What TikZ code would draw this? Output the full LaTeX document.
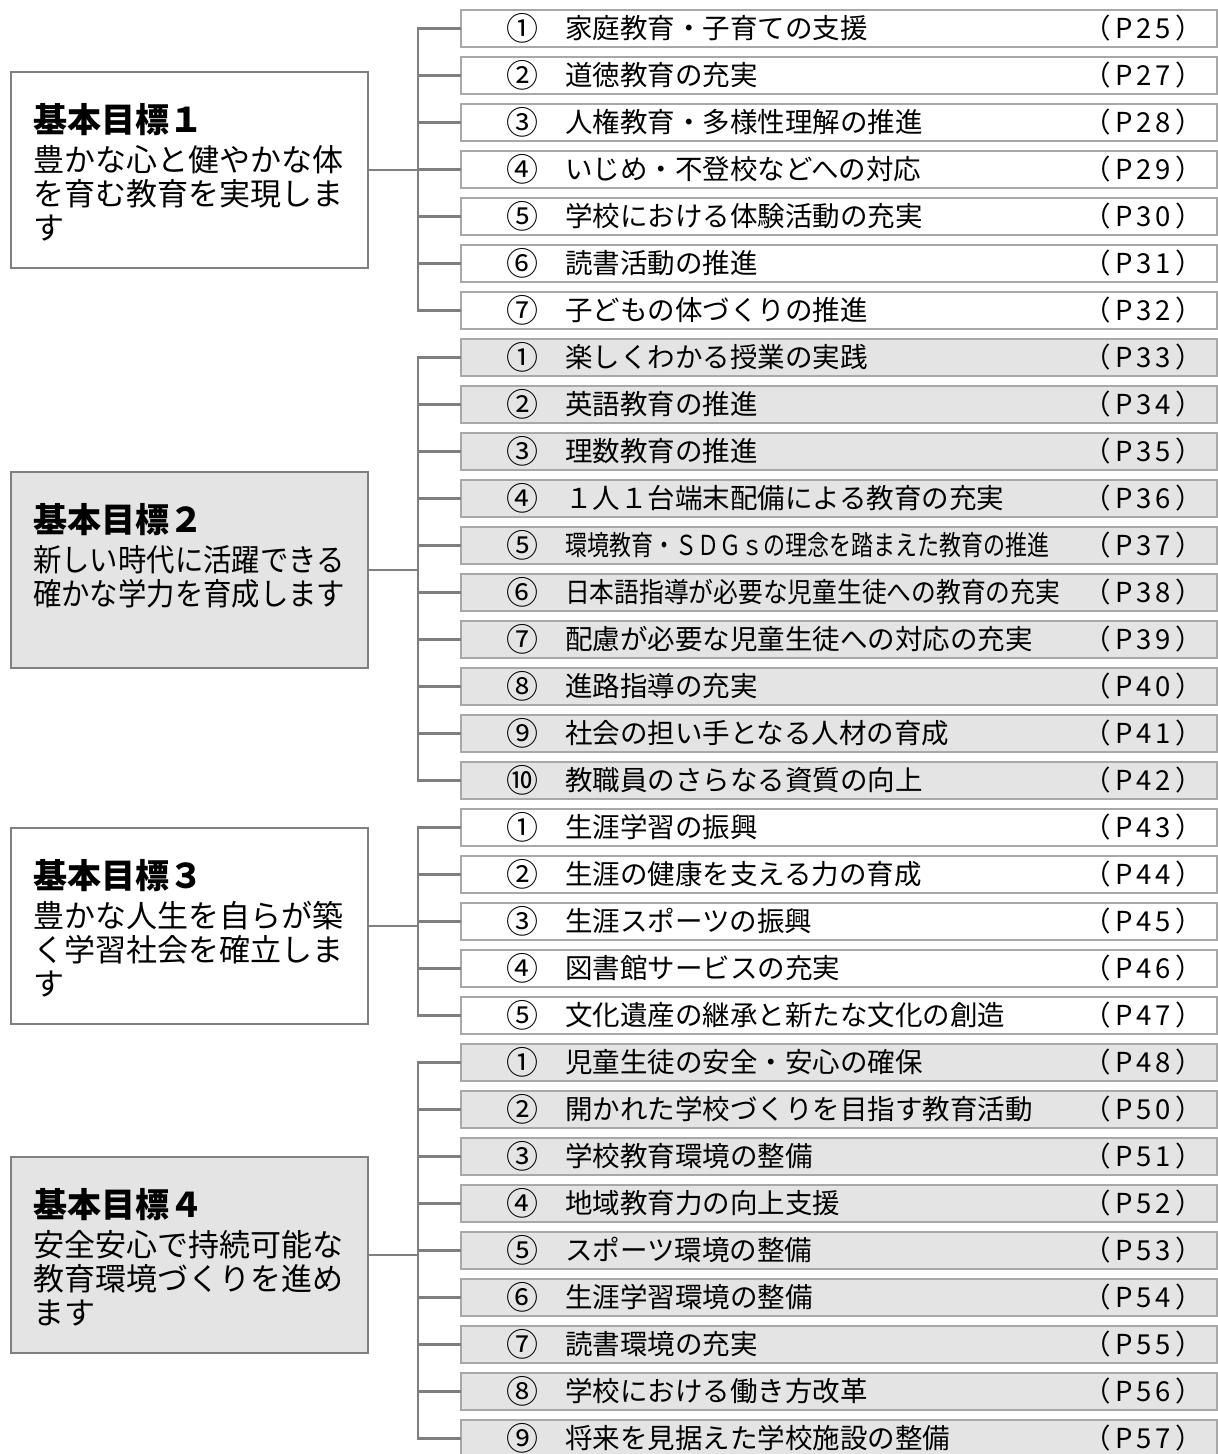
\documentclass[tikz,border=0pt]{standalone}
\usepackage{fontspec}
\setmainfont{Noto Sans CJK JP}
\newfontfamily\condA[FakeStretch=0.8]{Noto Sans CJK JP}
\newfontfamily\condB[FakeStretch=0.9]{Noto Sans CJK JP}
\newfontfamily\condG[FakeStretch=0.915]{Noto Sans CJK JP}
\newfontfamily\reffont[LetterSpace=15]{Noto Sans CJK JP}
\definecolor{boxfill}{HTML}{E4E4E4}
\definecolor{itemline}{HTML}{A8A8A8}
\definecolor{goalline}{HTML}{808080}
\definecolor{conn}{HTML}{7F7F7F}
\tikzset{
  itembox/.style={draw=itemline, line width=1.5pt, minimum width=756pt, minimum height=37pt, inner sep=0pt, outer sep=0pt},
  goalbox/.style={draw=goalline, line width=2.5pt, minimum width=357pt, minimum height=196pt, inner sep=0pt, outer sep=0pt},
  itemtxt/.style={font=\fontsize{27.5}{30}\selectfont, inner sep=0pt, text height=24.2pt, text depth=3.3pt},
  numtxt/.style={font=\fontsize{32}{34}\selectfont, inner sep=0pt, text height=28.2pt, text depth=3.8pt},
  goaltitle/.style={font=\fontsize{34}{36}\selectfont\bfseries, inner sep=0pt, anchor=west, text height=29.9pt, text depth=4.1pt},
  goaltxt/.style={font=\fontsize{31}{34}\selectfont, inner sep=0pt, anchor=west, text height=27.3pt, text depth=3.7pt},
  connector/.style={draw=conn, line width=2.5pt},
}
\begin{document}
\begin{tikzpicture}[x=1pt,y=-1pt]
\useasboundingbox (0,0) rectangle (1218,1454);
% ---------- item rows ----------
\foreach \r/\n/\t/\p/\f in {
  1/①/家庭教育・子育ての支援/25/white,
  2/②/道徳教育の充実/27/white,
  3/③/人権教育・多様性理解の推進/28/white,
  4/④/いじめ・不登校などへの対応/29/white,
  5/⑤/学校における体験活動の充実/30/white,
  6/⑥/読書活動の推進/31/white,
  7/⑦/子どもの体づくりの推進/32/white,
  8/①/楽しくわかる授業の実践/33/boxfill,
  9/②/英語教育の推進/34/boxfill,
  10/③/理数教育の推進/35/boxfill,
  11/④/１人１台端末配備による教育の充実/36/boxfill,
  12/⑤/{\condA 環境教育・ＳＤＧｓの理念を踏まえた教育の推進}/37/boxfill,
  13/⑥/{\condB 日本語指導が必要な児童生徒への教育の充実}/38/boxfill,
  14/⑦/配慮が必要な児童生徒への対応の充実/39/boxfill,
  15/⑧/進路指導の充実/40/boxfill,
  16/⑨/社会の担い手となる人材の育成/41/boxfill,
  17/⑩/教職員のさらなる資質の向上/42/boxfill,
  18/①/生涯学習の振興/43/white,
  19/②/生涯の健康を支える力の育成/44/white,
  20/③/生涯スポーツの振興/45/white,
  21/④/図書館サービスの充実/46/white,
  22/⑤/文化遺産の継承と新たな文化の創造/47/white,
  23/①/児童生徒の安全・安心の確保/48/boxfill,
  24/②/開かれた学校づくりを目指す教育活動/50/boxfill,
  25/③/学校教育環境の整備/51/boxfill,
  26/④/地域教育力の向上支援/52/boxfill,
  27/⑤/スポーツ環境の整備/53/boxfill,
  28/⑥/生涯学習環境の整備/54/boxfill,
  29/⑦/読書環境の充実/55/boxfill,
  30/⑧/学校における働き方改革/56/boxfill,
  31/⑨/将来を見据えた学校施設の整備/57/boxfill}{
  \pgfmathsetmacro\yy{28.5+47*(\r-1)}
  \node[itembox, fill=\f] (it\r) at (839,\yy) {};
  \node[numtxt] (num\r) at ([xshift=61pt]it\r.west) {\n};
  \node[itemtxt, anchor=west] (txt\r) at ([xshift=104pt]it\r.west) {\t};
  \node[itemtxt, anchor=east] (pg\r) at ([xshift=-14pt]it\r.east) {\reffont（P\p）};
}
% ---------- goal boxes ----------
\node[goalbox, fill=white]   (g1) at (189.5,170) {};
\node[goalbox, fill=boxfill] (g2) at (189.5,570) {};
\node[goalbox, fill=white]   (g3) at (189.5,926) {};
\node[goalbox, fill=boxfill] (g4) at (189.5,1255) {};
\node[goaltitle] (g1t) at ([xshift=22pt,yshift=-48pt]g1.north west) {基本目標１};
\node[goaltxt]   (g1a) at ([xshift=22pt,yshift=-88pt]g1.north west) {豊かな心と健やかな体};
\node[goaltxt]   (g1b) at ([xshift=22pt,yshift=-122pt]g1.north west) {を育む教育を実現しま};
\node[goaltxt]   (g1c) at ([xshift=22pt,yshift=-156pt]g1.north west) {す};
\node[goaltitle] (g2t) at ([xshift=22pt,yshift=-48pt]g2.north west) {基本目標２};
\node[goaltxt]   (g2a) at ([xshift=22pt,yshift=-88pt]g2.north west) {\condG 新しい時代に活躍できる};
\node[goaltxt]   (g2b) at ([xshift=22pt,yshift=-122pt]g2.north west) {\condG 確かな学力を育成します};
\node[goaltitle] (g3t) at ([xshift=22pt,yshift=-48pt]g3.north west) {基本目標３};
\node[goaltxt]   (g3a) at ([xshift=22pt,yshift=-88pt]g3.north west) {豊かな人生を自らが築};
\node[goaltxt]   (g3b) at ([xshift=22pt,yshift=-122pt]g3.north west) {く学習社会を確立しま};
\node[goaltxt]   (g3c) at ([xshift=22pt,yshift=-156pt]g3.north west) {す};
\node[goaltitle] (g4t) at ([xshift=22pt,yshift=-48pt]g4.north west) {基本目標４};
\node[goaltxt]   (g4a) at ([xshift=22pt,yshift=-88pt]g4.north west) {安全安心で持続可能な};
\node[goaltxt]   (g4b) at ([xshift=22pt,yshift=-122pt]g4.north west) {教育環境づくりを進め};
\node[goaltxt]   (g4c) at ([xshift=22pt,yshift=-156pt]g4.north west) {ます};
% ---------- connectors ----------
\coordinate (b1) at (418,170);
\coordinate (b2) at (418,570);
\coordinate (b3) at (418,926);
\coordinate (b4) at (418,1255);
\draw[connector] (g1.east) -- (b1);
\draw[connector] (g2.east) -- (b2);
\draw[connector] (g3.east) -- (b3);
\draw[connector] (g4.east) -- (b4);
\draw[connector] (it1.west) -- (it1.west -| b1) -- (it7.west -| b1) -- (it7.west);
\draw[connector] (it8.west) -- (it8.west -| b2) -- (it17.west -| b2) -- (it17.west);
\draw[connector] (it18.west) -- (it18.west -| b3) -- (it22.west -| b3) -- (it22.west);
\draw[connector] (it23.west) -- (it23.west -| b4) -- (it31.west -| b4) -- (it31.west);
\foreach \r/\b in {2/b1,3/b1,4/b1,5/b1,6/b1,9/b2,10/b2,11/b2,12/b2,13/b2,14/b2,15/b2,16/b2,19/b3,20/b3,21/b3,24/b4,25/b4,26/b4,27/b4,28/b4,29/b4,30/b4}{
  \draw[connector] (it\r.west -| \b) -- (it\r.west);
}
\end{tikzpicture}
\end{document}
